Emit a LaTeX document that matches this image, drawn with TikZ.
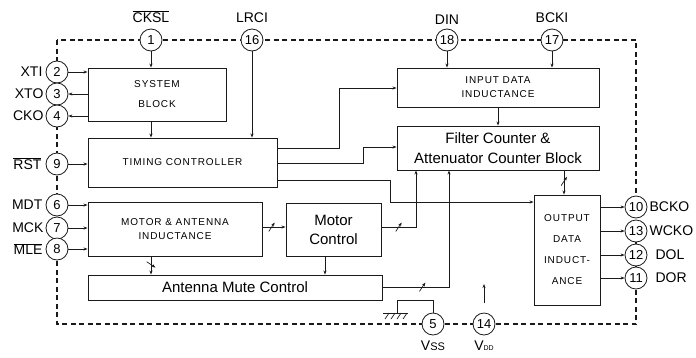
\documentclass[tikz,border=0pt]{standalone}
\usepackage{fontspec}
\setmainfont{Liberation Sans}
\usepackage{tikz}
\usetikzlibrary{arrows.meta,positioning}
\definecolor{inkgray}{HTML}{1A1A1A}

\begin{document}
\begin{tikzpicture}[x=1pt,y=-1pt,
  blk/.style={draw=inkgray,line width=0.9pt,inner sep=0pt,align=center},
  capsfont/.style={font=\fontsize{10}{20}\selectfont\addfontfeature{LetterSpace=9}},
  bigfont/.style={font=\fontsize{15}{19}\selectfont},
  pad/.style={draw=inkgray,circle,fill=white,line width=0.8pt,minimum size=22pt,inner sep=0pt,
    font=\fontsize{13}{13}\selectfont},
  padlbl/.style={font=\fontsize{14}{14}\selectfont,inner sep=1pt},
  wire/.style={draw=inkgray,line width=0.7pt},
  border/.style={draw=inkgray,line width=1.7pt,dash pattern=on 5pt off 3.5pt},
  busmark/.style={inner sep=0pt,minimum width=6pt,minimum height=9pt,
    path picture={\draw[inkgray,line width=0.7pt] (path picture bounding box.south west) -- (path picture bounding box.north east);}},
  busmarkb/.style={inner sep=0pt,minimum width=9pt,minimum height=6pt,
    path picture={\draw[inkgray,line width=0.7pt] (path picture bounding box.north west) -- (path picture bounding box.south east);}},
  >={Stealth[length=4pt,width=3pt]}]
\useasboundingbox (0,0) rectangle (696,357);

% blocks
\node[blk,capsfont,minimum width=138pt,minimum height=53pt] (sys) at (157,94.5) {SYSTEM\\BLOCK};
\node[blk,capsfont,minimum width=189pt,minimum height=49pt] (timing) at (182.5,162.5) {TIMING CONTROLLER};
\node[blk,capsfont,font=\fontsize{10}{14}\selectfont\addfontfeature{LetterSpace=9},minimum width=174pt,minimum height=54pt] (motant) at (175,229) {MOTOR \& ANTENNA\\INDUCTANCE};
\node[blk,bigfont,minimum width=95pt,minimum height=53pt] (motctl) at (333.5,229.5) {Motor\\Control};
\node[blk,bigfont,minimum width=294pt,minimum height=25pt] (mute) at (235,287.5) {Antenna Mute Control};
\node[blk,capsfont,font=\fontsize{10}{14}\selectfont\addfontfeature{LetterSpace=9},minimum width=202pt,minimum height=39pt] (indata) at (498,87.5) {INPUT DATA\\INDUCTANCE};
\node[blk,bigfont,font=\fontsize{15}{20}\selectfont,minimum width=202pt,minimum height=44pt] (filter) at (498,148) {Filter Counter \&\\Attenuator Counter Block};
\node[blk,capsfont,font=\fontsize{10}{21}\selectfont\addfontfeature{LetterSpace=9},minimum width=66pt,minimum height=110pt] (outdata) at (567,250) {OUTPUT\\DATA\\INDUCT-\\ANCE};

% pins
\coordinate (tl) at (57,40);
\coordinate (br) at (636,324);
\draw[border] (tl) rectangle (br);
\node[pad,label={[padlbl,label distance=5pt]above:$\overline{\mbox{CKSL}}$}] (p1) at (151,40) {1};
\node[pad,label={[padlbl,label distance=5pt]above:LRCI}] (p16) at (252,40) {16};
\node[pad,label={[padlbl,label distance=3pt]above:DIN}] (p18) at (447,40) {18};
\node[pad,label={[padlbl,label distance=5pt]above:BCKI}] (p17) at (552,40) {17};
\node[pad,label={[padlbl,label distance=2pt]left:XTI}] (p2) at (57,72) {2};
\node[pad,label={[padlbl,label distance=1pt]left:XTO}] (p3) at (57,94) {3};
\node[pad,label={[padlbl,label distance=1pt]left:CKO}] (p4) at (57,116) {4};
\node[pad,label={[padlbl,label distance=3pt]left:$\overline{\mbox{RST}}$}] (p9) at (57,164) {9};
\node[pad,label={[padlbl,label distance=2pt]left:MDT}] (p6) at (57,205) {6};
\node[pad,label={[padlbl,label distance=1pt]left:MCK}] (p7) at (57,228) {7};
\node[pad,label={[padlbl,label distance=2pt]left:$\overline{\mbox{MLE}}$}] (p8) at (57,249) {8};
\node[pad,label={[padlbl,label distance=1pt]right:BCKO}] (p10) at (636,207) {10};
\node[pad,label={[padlbl,label distance=1pt]right:WCKO}] (p13) at (636,231) {13};
\node[pad,label={[padlbl,label distance=7pt]right:DOL}] (p12) at (636,255) {12};
\node[pad,label={[padlbl,label distance=7pt]right:DOR}] (p11) at (636,278) {11};
\node[pad,label={[padlbl,label distance=4pt]below:V{\fontsize{11}{11}\selectfont SS}}] (p5) at (433,324) {5};
\node[pad,label={[padlbl,label distance=4pt]below:V{\fontsize{7}{7}\selectfont DD}}] (p14) at (484,324) {14};

% connections
\draw[wire,->] (p1) -- (p1 |- sys.north);
\draw[wire,->] (p2) -- (p2 -| sys.west);
\draw[wire,->] (p3 -| sys.west) -- (p3);
\draw[wire,->] (p4 -| sys.west) -- (p4);
\draw[wire,->] (sys.south -| p1) -- (p1 |- timing.north);
\draw[wire,->] (p16) -- (p16 |- timing.north);
\draw[wire,->] (p9) -- (p9 -| timing.west);
\draw[wire,->] (p6) -- (p6 -| motant.west);
\draw[wire,->] (p7) -- (p7 -| motant.west);
\draw[wire,->] (p8) -- (p8 -| motant.west);
\draw[wire,->] (p18) -- (p18 |- indata.north);
\draw[wire,->] (p17) -- (p17 |- indata.north);

\draw[wire,->] (timing.east |- 0,148) -| (339,88) -- (indata.west |- 0,88);
\draw[wire,->] (timing.east |- 0,163) -| (363,147) -- (filter.west |- 0,147);
\draw[wire,->] (timing.east |- 0,180) -| (390,202) -- (outdata.west |- 0,202);

\draw[wire,->] (indata.south) -- (filter.north);
\draw[wire,->] (filter.south -| 564,0) -- node[busmark,pos=0.45]{} (outdata.north -| 564,0);

\draw[wire,->] (motant.east |- 0,227) -- node[busmark,pos=0.4]{} (motctl.west |- 0,227);
\draw[wire,->] (motant.south -| p1) -- node[busmarkb,pos=0.45]{} (mute.north -| p1);
\draw[wire,->] (motctl.south -| 325,0) -- (mute.north -| 325,0);
\draw[wire,->] (motctl.east |- 0,227) -- node[busmark]{} (416,227) -- (filter.south -| 416,0);
\draw[wire,->] (mute.east |- 0,287) -- node[busmark,pos=0.6]{} (449,287) -- (filter.south -| 449,0);

\draw[wire,->] (outdata.east |- p10) -- (p10);
\draw[wire,->] (outdata.east |- p13) -- (p13);
\draw[wire,->] (outdata.east |- p12) -- (p12);
\draw[wire,->] (outdata.east |- p11) -- (p11);

% ground and supply
\coordinate (gnd) at (397,313);
\draw[wire] (p5) -- (p5 |- 0,300) -| (gnd);
\draw[wire] (383,313) -- (408,313);
\foreach \hx in {389,395,401,407} \draw[wire] (\hx,313) -- ++(-4,6);
\coordinate (vdd) at (484,303);
\draw[wire,->] (vdd) -- ++(0,-19);
\end{tikzpicture}
\end{document}
